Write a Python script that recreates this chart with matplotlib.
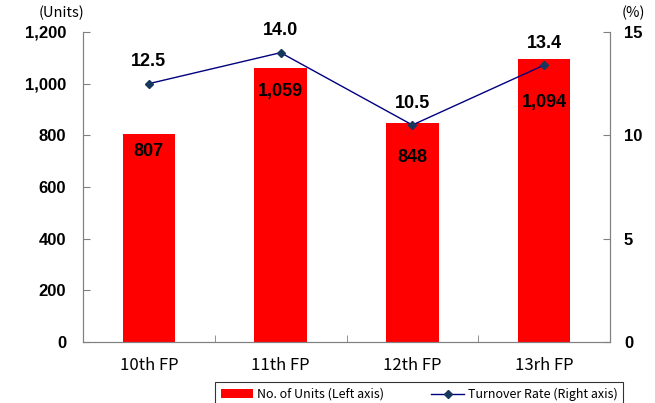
import matplotlib.pyplot as plt
import numpy as np

categories = ['10th FP', '11th FP', '12th FP', '13rh FP']
units = [807, 1059, 848, 1094]
turnover = [12.5, 14.0, 10.5, 13.4]
unit_labels = ['807', '1,059', '848', '1,094']
# how far below each bar top the value label sits (in units)
label_drop = [70, 89, 135, 166]
left_ticks = [0, 200, 400, 600, 800, 1000, 1200]
left_ticklabels = ['0', '200', '400', '600', '800', '1,000', '1,200']
right_ticks = [0, 5, 10, 15]

fig = plt.figure(figsize=(6.55, 4.03), dpi=100)
ax = fig.add_axes([83 / 655, 1 - 342 / 403, 527 / 655, 310 / 403])
ax2 = ax.twinx()

x = np.arange(len(categories))
ax.bar(x, units, width=0.4, color='#FF0000', zorder=2, label='No. of Units (Left axis)')
ax.set_xlim(-0.5, len(categories) - 0.5)
ax.set_ylim(0, 1200)
ax.set_yticks(left_ticks)
ax.set_yticklabels(left_ticklabels, fontsize=12, fontweight='bold', family='Liberation Sans')
ax.set_xticks(x)
ax.set_xticklabels(categories, fontsize=12, family='Noto Sans CJK JP')
ax.set_xticks(np.arange(len(categories) + 1) - 0.5, minor=True)
ax.tick_params(axis='x', which='major', length=0, pad=11)
ax.tick_params(axis='x', which='minor', direction='in', length=5, color='#808080')
ax.tick_params(axis='y', direction='in', length=5, color='#808080', pad=12)

for xi, u, lab, d in zip(x, units, unit_labels, label_drop):
    ax.text(xi, u - d, lab, ha='center', va='center', fontsize=13, fontweight='bold',
            family='Liberation Sans', zorder=3)

ax2.plot(x, turnover, color='#000080', lw=1.0, marker='D', markersize=4.5,
         markerfacecolor='#17375E', markeredgecolor='#17375E', zorder=4,
         label='Turnover Rate (Right axis)')
ax2.set_ylim(0, 15)
ax2.set_yticks(right_ticks)
ax2.set_yticklabels([str(t) for t in right_ticks], fontsize=12, fontweight='bold',
                    family='Liberation Sans')
ax2.tick_params(axis='y', direction='in', length=5, color='#808080', pad=10)

for xi, t in zip(x, turnover):
    ax2.text(xi, t + 1.05, f'{t:.1f}', ha='center', va='center', fontsize=13,
             fontweight='bold', family='Liberation Sans', zorder=5)

for a in (ax, ax2):
    for s in a.spines.values():
        s.set_color('#808080')
    a.spines['top'].set_visible(False)

fig.text(61 / 655, 1 - 13 / 403, '(Units)', ha='center', va='center', fontsize=10.5,
         family='Noto Sans CJK JP')
fig.text(633 / 655, 1 - 13 / 403, '(%)', ha='center', va='center', fontsize=10.5,
         family='Noto Sans CJK JP')

h1, l1 = ax.get_legend_handles_labels()
h2, l2 = ax2.get_legend_handles_labels()
leg = fig.legend(h1 + h2, l1 + l2, loc='upper left',
                 bbox_to_anchor=(215 / 655, 1 - 382 / 403, 408 / 655, 0),
                 mode='expand', ncol=2, frameon=True, fancybox=False,
                 prop={'family': 'Noto Sans CJK JP', 'size': 9},
                 handlelength=2.6, borderpad=0.45, borderaxespad=0,
                 handletextpad=0.3, columnspacing=3)
leg.get_frame().set_edgecolor('black')
leg.get_frame().set_linewidth(0.8)

fig.savefig('out.png', dpi=100)
